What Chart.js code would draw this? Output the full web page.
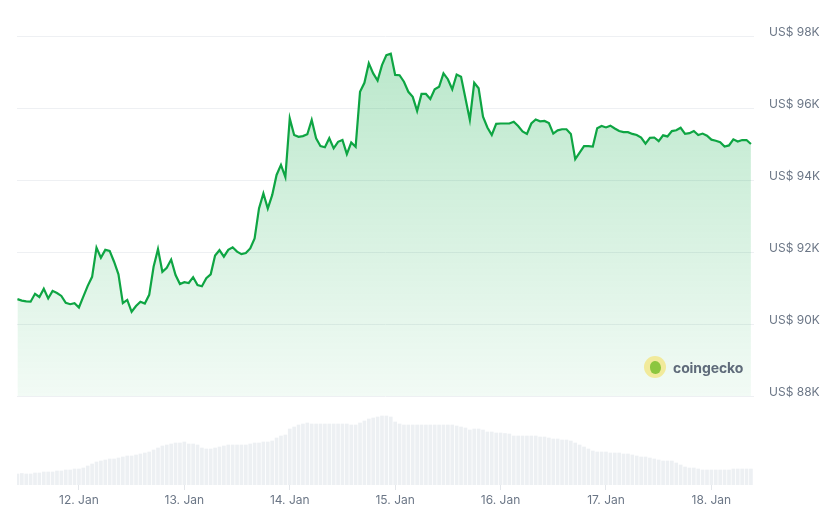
<!DOCTYPE html>
<html>
<head>
<meta charset="utf-8">
<script src="https://cdn.jsdelivr.net/npm/chart.js@4.4.1/dist/chart.umd.min.js"></script>
<style>
  body { margin: 0; background: #fff; font-family: Inter, "Noto Sans", sans-serif; }
  #wrap { position: relative; width: 837px; height: 518px; }
  #brand { position: absolute; left: 644px; top: 356px; height: 22px; display: flex; align-items: center; }
  #brand .logo { width: 22px; height: 22px; border-radius: 50%; background: #f1ea9b; position: relative; }
  #brand .logo::after { content: ""; position: absolute; left: 6px; top: 5px; width: 11px; height: 13px; border-radius: 45% 55% 50% 50%; background: #8cc63f; }
  #brand span { margin-left: 7px; font-size: 14px; font-weight: 700; color: #5f6b7a; letter-spacing: -0.1px; }
</style>
</head>
<body>
<div id="wrap">
  <canvas id="chart"></canvas>
  <div id="brand"><div class="logo"></div><span>coingecko</span></div>
</div>
<script>
// hourly BTC price (USD), 11 Jan 10:00 -> 18 Jan 09:00
const prices = [
  90690, 90650, 90630, 90620, 90840, 90750, 90980, 90710, 90920, 90860,
  90780, 90590, 90550, 90580, 90460, 90760, 91060, 91310, 92120, 91840,
  92060, 92030, 91730, 91380, 90580, 90670, 90340, 90500, 90620, 90570,
  90810, 91590, 92080, 91450, 91560, 91790, 91360, 91110, 91160, 91140,
  91300, 91080, 91050, 91270, 91380, 91900, 92050, 91870, 92060, 92130,
  92010, 91940, 91970, 92100, 92380, 93210, 93630, 93210, 93580, 94140,
  94420, 94080, 95710, 95250, 95200, 95220, 95270, 95670, 95160, 94940,
  94910, 95160, 94880, 95060, 95110, 94720, 95040, 94920, 96450, 96700,
  97240, 96960, 96760, 97190, 97470, 97510, 96920, 96910, 96730, 96450,
  96310, 95920, 96390, 96390, 96250, 96520, 96590, 96960, 96800, 96520,
  96930, 96870, 96270, 95670, 96700, 96550, 95760, 95460, 95250, 95560,
  95570, 95570, 95570, 95620, 95500, 95350, 95280, 95570, 95680, 95630,
  95640, 95580, 95290, 95380, 95410, 95410, 95280, 94580, 94760, 94940,
  94940, 94930, 95440, 95500, 95460, 95510, 95430, 95360, 95330, 95330,
  95280, 95250, 95180, 95010, 95170, 95180, 95080, 95240, 95210, 95360,
  95380, 95450, 95280, 95300, 95360, 95250, 95290, 95230, 95120, 95090,
  95050, 94930, 94960, 95130, 95070, 95110, 95110, 95000
];

// hourly traded volume (billions USD)
const volumes = [
  11, 11.5, 11, 11, 12, 12, 13, 13, 13, 14,
  14, 15, 15, 16, 16, 17, 19, 21, 23, 24,
  25, 26, 26, 27, 28, 29, 29, 30, 31, 32,
  33, 35, 37, 39, 40, 41, 42, 42, 43, 41,
  41, 40, 37, 36, 36, 37, 38, 39, 40, 40,
  40, 40, 40, 41, 42, 42, 43, 43, 44, 47,
  49, 50, 56, 58, 60, 61, 62, 61, 61, 61,
  61, 61, 61, 61, 61, 61, 60, 60, 62, 64,
  66, 67, 68, 69, 69, 68, 63, 61, 60, 60,
  60, 60, 60, 60, 60, 60, 60, 60, 60, 60,
  59, 58, 57, 55, 56, 56, 55, 53, 53, 52,
  52, 51.5, 51, 49, 49, 49, 49, 49, 49, 48,
  48, 47, 46, 46, 45, 45, 44, 42, 40, 38,
  36, 34, 33, 33, 33, 32, 32, 32, 31, 31,
  30, 29, 28, 28, 27, 26, 25, 24, 24, 24,
  22, 20, 18, 17, 17, 16, 15, 15, 15, 15,
  15, 15, 15, 16, 16, 16, 16, 16
];

// hours relative to 12 Jan 00:00
const hours = prices.map((_, i) => i - 14);

const dayTicks = [0, 24, 48, 72, 96, 120, 144];
const dayLabels = ['12. Jan', '13. Jan', '14. Jan', '15. Jan', '16. Jan', '17. Jan', '18. Jan'];
const priceTicks = [88000, 90000, 92000, 94000, 96000, 98000];

const tickColor = '#6b7686';

const ctx = document.getElementById('chart');
new Chart(ctx, {
  data: {
    datasets: [
      {
        type: 'line',
        data: hours.map((h, i) => ({ x: h, y: prices[i] })),
        yAxisID: 'y',
        borderColor: '#0ea543',
        borderWidth: 2.2,
        pointRadius: 0,
        tension: 0,
        fill: { value: 88000 },
        backgroundColor: (c) => {
          const area = c.chart.chartArea;
          if (!area) return 'rgba(0,168,62,0.15)';
          const g = c.chart.ctx.createLinearGradient(0, area.top, 0, area.top + 360);
          g.addColorStop(0, 'rgba(0,168,62,0.28)');
          g.addColorStop(1, 'rgba(0,168,62,0.05)');
          return g;
        }
      },
      {
        type: 'bar',
        data: hours.map((h, i) => ({ x: h, y: volumes[i] })),
        yAxisID: 'yVol',
        backgroundColor: '#edf0f3',
        barThickness: 3
      }
    ]
  },
  options: {
    responsive: true,
    maintainAspectRatio: false,
    animation: false,
    layout: { padding: { left: 17, top: 36, right: 0, bottom: 0 } },
    plugins: {
      legend: { display: false },
      tooltip: { enabled: false }
    },
    scales: {
      x: {
        type: 'linear',
        offset: false,
        min: -14.1,
        max: 153.7,
        afterBuildTicks: (s) => { s.ticks = dayTicks.map(v => ({ value: v })); },
        afterFit: (s) => { s.height = 33; },
        grid: { offset: false, drawOnChartArea: false, drawTicks: true, tickLength: 5, color: '#e4e7eb' },
        border: { display: false },
        ticks: {
          padding: 3,
          maxRotation: 0,
          color: tickColor,
          font: { family: 'Inter', size: 12 },
          callback: (v, i) => dayLabels[i]
        }
      },
      y: {
        position: 'right',
        min: 85528,
        max: 98000,
        afterBuildTicks: (s) => { s.ticks = priceTicks.map(v => ({ value: v })); },
        afterFit: (s) => { s.width = 83; },
        grid: { color: '#eef0f3', drawTicks: false },
        border: { display: false },
        ticks: {
          padding: 15,
          labelOffset: -4,
          color: tickColor,
          font: { family: 'Inter', size: 12 },
          callback: (v) => 'US$ ' + (v / 1000) + 'K'
        }
      },
      yVol: {
        display: false,
        min: 0,
        max: 449
      }
    }
  }
});
</script>
</body>
</html>
